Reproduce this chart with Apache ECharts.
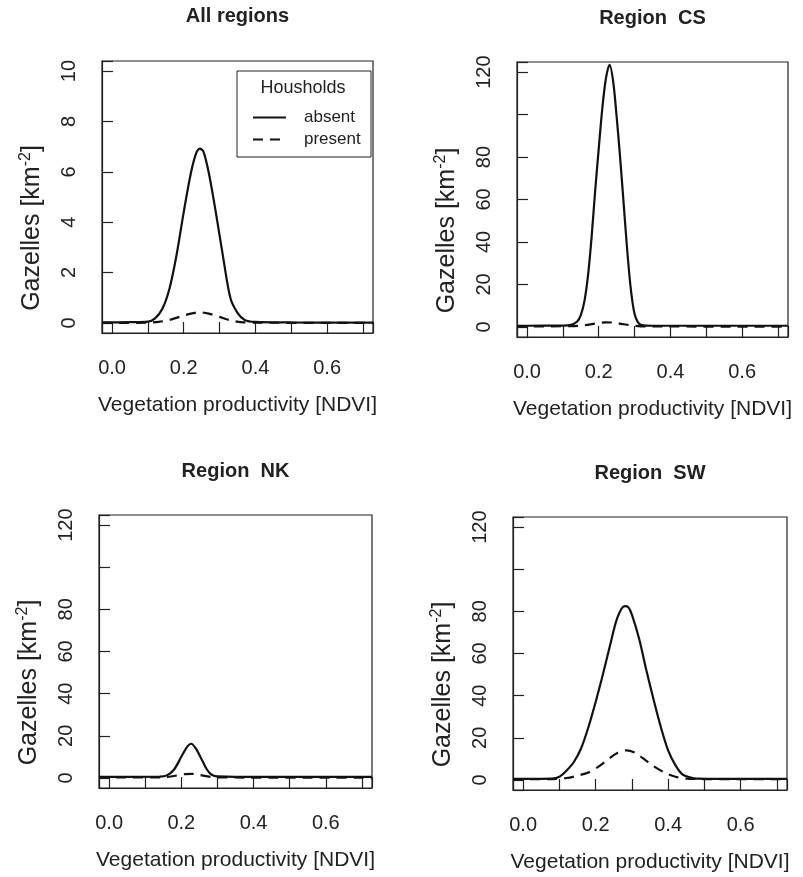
<!DOCTYPE html>
<html>
<head>
<meta charset="utf-8">
<title>Gazelles vs NDVI</title>
<script src="https://cdn.jsdelivr.net/npm/echarts@6/dist/echarts.min.js"></script>
<style>
	html, body { margin: 0; padding: 0; background: #fff; }
	#main { width: 803px; height: 877px; }
</style>
</head>
<body>
<div id="main"></div>
<script>
// panel titles
var panelTitles = ['All regions', 'Region  CS', 'Region  NK', 'Region  SW'];
var legendNames = ['absent', 'present'];

// All regions
var allAbsX = [-0.028, 0, 0.05, 0.1, 0.12, 0.14, 0.16, 0.18, 0.2, 0.22, 0.235, 0.245, 0.255, 0.27, 0.29, 0.31, 0.33, 0.35, 0.37, 0.4, 0.5, 0.6, 0.728];
var allAbs = [0.02, 0.02, 0.03, 0.05, 0.18, 0.55, 1.35, 2.7, 4.4, 5.95, 6.75, 6.92, 6.8, 5.95, 4.35, 2.6, 1.0, 0.4, 0.12, 0.04, 0.02, 0.01, 0.01];
var allPresX = [-0.028, 0.1, 0.13, 0.16, 0.19, 0.22, 0.245, 0.27, 0.3, 0.33, 0.36, 0.4, 0.728];
var allPres = [0, 0.01, 0.04, 0.12, 0.25, 0.37, 0.42, 0.37, 0.24, 0.1, 0.03, 0.01, 0];

// Region CS
var csAbsX = [-0.028, 0, 0.1, 0.12, 0.14, 0.15, 0.16, 0.17, 0.18, 0.19, 0.2, 0.21, 0.22, 0.23, 0.24, 0.25, 0.26, 0.27, 0.28, 0.29, 0.3, 0.31, 0.32, 0.35, 0.5, 0.728];
var csAbs = [0.5, 0.5, 0.6, 0.8, 2.5, 5.5, 12, 24, 42, 64, 84, 103, 117, 123.5, 116, 99, 79, 57, 35, 17, 6, 2, 0.8, 0.5, 0.5, 0.5];
var csPresX = [-0.028, 0.12, 0.16, 0.19, 0.22, 0.24, 0.27, 0.3, 0.33, 0.728];
var csPres = [0.2, 0.3, 0.7, 1.5, 2.1, 2.0, 1.2, 0.5, 0.2, 0.1];

// Region NK
var nkAbsX = [-0.028, 0, 0.14, 0.16, 0.18, 0.2, 0.215, 0.227, 0.24, 0.26, 0.27, 0.28, 0.29, 0.3, 0.35, 0.728];
var nkAbs = [0.5, 0.5, 0.6, 1.2, 4, 10, 14.5, 16.2, 14, 7.5, 4.2, 2.0, 1.0, 0.7, 0.5, 0.5];
var nkPresX = [-0.028, 0.15, 0.18, 0.21, 0.23, 0.25, 0.28, 0.32, 0.728];
var nkPres = [0.2, 0.3, 0.9, 1.8, 1.9, 1.4, 0.5, 0.2, 0.1];

// Region SW
var swAbsX = [-0.028, 0, 0.08, 0.1, 0.12, 0.14, 0.16, 0.18, 0.2, 0.22, 0.24, 0.26, 0.28, 0.29, 0.3, 0.32, 0.34, 0.36, 0.38, 0.4, 0.42, 0.44, 0.46, 0.48, 0.55, 0.728];
var swAbs = [0.5, 0.5, 0.6, 1.5, 4.5, 8.5, 15, 25, 37, 50, 64, 77, 82.5, 82, 78.5, 67, 52, 38, 25, 14, 7, 2.5, 1.2, 0.6, 0.5, 0.5];
var swPresX = [-0.028, 0.08, 0.12, 0.15, 0.18, 0.21, 0.24, 0.26, 0.285, 0.31, 0.33, 0.36, 0.39, 0.42, 0.45, 0.5, 0.728];
var swPres = [0.3, 0.4, 0.9, 2.0, 3.5, 6.5, 10.5, 12.8, 14, 12.8, 10.3, 6.5, 3.5, 1.5, 0.6, 0.4, 0.3];

// y limits (R style 4% padding around 0..max)
var yMaxes = [10, 120, 120, 120];
// y tick labels R drops because they would overlap
var yDropped = [[], [100], [100], [100]];

var grids = [
	{left: 102, top: 61, width: 271, height: 272},
	{left: 517, top: 62, width: 271, height: 275},
	{left: 99, top: 515, width: 273, height: 273},
	{left: 513, top: 517, width: 274, height: 273}
];
var titleTops = [6, 8, 461, 463];

var txt = '#222';
var font = '"Liberation Sans", Arial, sans-serif';

function pairs(xs, ys) {
	var out = [];
	for(var i = 0; i < xs.length; i++) {
		out.push([xs[i], ys[i]]);
	}
	return out;
}

function xLabel(v) {
	var k = Math.round(v * 10);
	if(Math.abs(v * 10 - k) > 1e-6 || k % 2 != 0) return '';
	return v.toFixed(1);
}

function yLabelFor(dropped) {
	return function(v) {
		if(Math.abs(v - Math.round(v)) > 1e-6) return '';
		if(dropped.indexOf(Math.round(v)) != -1) return '';
		return String(Math.round(v));
	};
}

var panelData = [
	[allAbsX, allAbs, allPresX, allPres],
	[csAbsX, csAbs, csPresX, csPres],
	[nkAbsX, nkAbs, nkPresX, nkPres],
	[swAbsX, swAbs, swPresX, swPres]
];

var option = {
	backgroundColor: '#fff',
	animation: false,
	color: ['#111', '#111'],
	title: [],
	grid: [],
	xAxis: [],
	yAxis: [],
	series: [],
	legend: {
		left: 252,
		top: 109,
		orient: 'vertical',
		padding: 0,
		itemWidth: 33,
		itemHeight: 12,
		itemGap: 5,
		selectedMode: false,
		z: 60,
		data: legendNames,
		itemStyle: {opacity: 0},
		textStyle: {
			fontFamily: font,
			fontSize: 17,
			color: txt,
			padding: [0, 0, 0, 13]
		}
	},
	graphic: [{
		type: 'rect',
		shape: {x: 237, y: 71, width: 134, height: 86},
		style: {fill: 'none', stroke: '#222', lineWidth: 1},
		z: 5
	}, {
		type: 'text',
		x: 303,
		y: 88,
		style: {
			text: 'Housholds',
			fontFamily: font,
			fontSize: 18,
			fill: txt,
			align: 'center',
			verticalAlign: 'middle'
		},
		z: 5
	}]
};

for(var p = 0; p < 4; p++) {
	var g = grids[p];
	var ym = yMaxes[p];
	option.title.push({
		text: panelTitles[p],
		left: g.left + g.width / 2,
		top: titleTops[p],
		textAlign: 'center',
		padding: 0,
		textStyle: {
			fontFamily: font,
			fontSize: 20,
			fontWeight: 'bold',
			color: txt
		}
	});
	option.grid.push({
		left: g.left,
		top: g.top,
		width: g.width,
		height: g.height,
		show: true,
		borderColor: '#222',
		borderWidth: 1.2,
		backgroundColor: 'transparent'
	});
	option.xAxis.push({
		type: 'value',
		gridIndex: p,
		min: -0.028,
		max: 0.728,
		splitNumber: 8,
		name: 'Vegetation productivity [NDVI]',
		nameLocation: 'middle',
		nameGap: 62,
		nameTextStyle: {fontFamily: font, fontSize: 21, color: txt},
		axisLine: {show: true, onZero: false, lineStyle: {color: '#222', width: 1.2}},
		axisTick: {show: true, inside: true, length: 11, lineStyle: {color: '#222', width: 1.2}},
		axisLabel: {
			margin: 25,
			fontFamily: font,
			fontSize: 20,
			color: txt,
			formatter: xLabel
		},
		splitLine: {show: false}
	});
	option.yAxis.push({
		type: 'value',
		gridIndex: p,
		min: -0.04 * ym,
		max: 1.04 * ym,
		splitNumber: ym == 10 ? 5 : 6,
		name: 'Gazelles [km{sup|-2}]',
		nameLocation: 'middle',
		nameRotate: 90,
		nameGap: 56,
		nameTextStyle: {
			fontFamily: font,
			fontSize: 25,
			color: txt,
			lineHeight: 28,
			padding: [0, 62, 0, 0],
			rich: {
				sup: {fontFamily: font, fontSize: 16, color: txt, lineHeight: 15, verticalAlign: 'top'}
			}
		},
		axisLine: {show: true, onZero: false, lineStyle: {color: '#222', width: 1.2}},
		axisTick: {show: true, inside: true, length: 11, lineStyle: {color: '#222', width: 1.2}},
		axisLabel: {
			rotate: 90,
			margin: 23,
			fontFamily: font,
			fontSize: 20,
			color: txt,
			formatter: yLabelFor(yDropped[p])
		},
		splitLine: {show: false}
	});
	var d = panelData[p];
	option.series.push({
		name: 'absent',
		type: 'line',
		xAxisIndex: p,
		yAxisIndex: p,
		data: pairs(d[0], d[1]),
		symbol: 'none',
		smooth: 0.3,
		itemStyle: {color: '#111'},
		lineStyle: {color: '#111', width: 2.2}
	});
	option.series.push({
		name: 'present',
		type: 'line',
		xAxisIndex: p,
		yAxisIndex: p,
		data: pairs(d[2], d[3]),
		symbol: 'none',
		smooth: 0.3,
		itemStyle: {color: '#111'},
		lineStyle: {color: '#111', width: 2.2, type: [10, 7]}
	});
}

var myChart = echarts.init(document.getElementById('main'), null, {renderer: 'canvas'});
myChart.setOption(option);
</script>
</body>
</html>
